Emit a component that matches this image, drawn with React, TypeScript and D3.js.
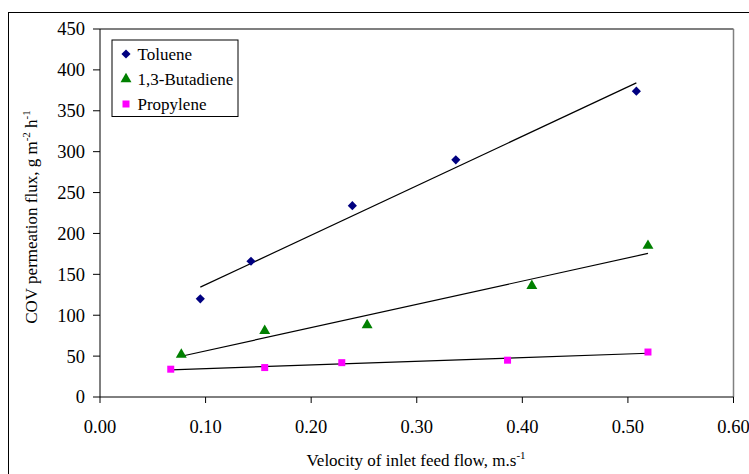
import React from "react";
import * as d3 from "d3";

const xTicks = [0, 0.1, 0.2, 0.3, 0.4, 0.5, 0.6];
const yTicks = [0, 50, 100, 150, 200, 250, 300, 350, 400, 450];

const tolueneX = [0.095, 0.143, 0.239, 0.337, 0.508];
const tolueneY = [120, 166, 234, 290, 374];
const butadieneX = [0.077, 0.156, 0.253, 0.409, 0.519];
const butadieneY = [52, 81, 88, 136, 185];
const propyleneX = [0.067, 0.156, 0.229, 0.386, 0.519];
const propyleneY = [34, 36, 42, 45, 55];

const seriesNames = ["Toluene", "1,3-Butadiene", "Propylene"];
const seriesColors = ["#000080", "#008000", "#FF00FF"];
const seriesShapes = [d3.symbolSquare, d3.symbolTriangle, d3.symbolSquare];
const seriesRotate = [45, 0, 0];

const W = 749;
const H = 474;
const L = 100, R = 733.5, T = 29, B = 397;

function fit(xs: number[], ys: number[]) {
  const mx = d3.mean(xs)!;
  const my = d3.mean(ys)!;
  let sxx = 0, sxy = 0;
  xs.forEach((x, i) => {
    sxx += (x - mx) * (x - mx);
    sxy += (x - mx) * (ys[i] - my);
  });
  const b = sxy / sxx;
  const a = my - b * mx;
  const x0 = d3.min(xs)!, x1 = d3.max(xs)!;
  return [[x0, a + b * x0], [x1, a + b * x1]];
}

export default function App() {
  const x = d3.scaleLinear().domain([0, 0.6]).range([L, R]);
  const y = d3.scaleLinear().domain([0, 450]).range([B, T]);
  const data = [
    [tolueneX, tolueneY],
    [butadieneX, butadieneY],
    [propyleneX, propyleneY],
  ];
  const sizes = [42, 52, 49];
  const sym = (i: number) => d3.symbol().type(seriesShapes[i]).size(sizes[i])();
  const line = d3.line<number[]>().x((d) => x(d[0])).y((d) => y(d[1]));
  const font = "'Liberation Serif', 'Times New Roman', serif";

  return (
    <svg
      width={W}
      height={H}
      style={{ position: "absolute", left: 0, top: 0, background: "#fff" }}
      fontFamily={font}
    >
      <rect x={8.5} y={12.5} width={800} height={500} fill="#fff" stroke="#000" strokeWidth={1} />
      {/* plot frame */}
      <line x1={L} x2={R} y1={T} y2={T} stroke="#000" strokeWidth={1.2} />
      <line x1={R} x2={R} y1={T} y2={B} stroke="#808080" strokeWidth={1.5} />
      {/* axes */}
      <line x1={L} x2={L} y1={T} y2={B} stroke="#000" strokeWidth={1} />
      <line x1={L} x2={R} y1={B} y2={B} stroke="#000" strokeWidth={1} />
      {yTicks.map((t) => (
        <g key={"y" + t}>
          <line x1={L - 7} x2={L} y1={y(t)} y2={y(t)} stroke="#000" />
          <text x={85} y={y(t)} dy="0.35em" textAnchor="end" fontSize={18.5} fill="#000">
            {t}
          </text>
        </g>
      ))}
      {xTicks.map((t) => (
        <g key={"x" + t}>
          <line x1={x(t)} x2={x(t)} y1={B} y2={B + 6} stroke="#000" />
          <text x={x(t)} y={433} textAnchor="middle" fontSize={18.5} fill="#000">
            {t.toFixed(2)}
          </text>
        </g>
      ))}
      {/* trend lines */}
      {data.map(([xs, ys], i) => (
        <path key={"l" + i} d={line(fit(xs, ys))!} stroke="#000" strokeWidth={1.2} fill="none" />
      ))}
      {/* points */}
      {data.map(([xs, ys], i) =>
        xs.map((xv, j) => (
          <path
            key={"p" + i + "-" + j}
            d={sym(i)!}
            transform={`translate(${x(xv)},${y(ys[j])}) rotate(${seriesRotate[i]})`}
            fill={seriesColors[i]}
          />
        ))
      )}
      {/* legend */}
      <rect x={112} y={40} width={126} height={76.5} fill="#fff" stroke="#000" strokeWidth={1} />
      {seriesNames.map((n, i) => (
        <g key={"lg" + i}>
          <path
            d={sym(i)!}
            transform={`translate(126,${54 + i * 25}) rotate(${seriesRotate[i]})`}
            fill={seriesColors[i]}
          />
          <text x={137.5} y={54 + i * 25} dy="0.35em" fontSize={17} fill="#000">
            {n}
          </text>
        </g>
      ))}
      {/* axis titles */}
      <text x={416} y={466} textAnchor="middle" fontSize={17} fill="#000">
        Velocity of inlet feed flow, m.s
        <tspan dy={-7} fontSize={11}>-1</tspan>
      </text>
      <text
        transform={`translate(37,${(T + B) / 2 + 4}) rotate(-90)`}
        textAnchor="middle"
        fontSize={17}
        fill="#000"
      >
        COV permeation flux, g m
        <tspan dy={-7} fontSize={11}>-2</tspan>
        <tspan dy={7}> h</tspan>
        <tspan dy={-7} fontSize={11}>-1</tspan>
      </text>
    </svg>
  );
}
